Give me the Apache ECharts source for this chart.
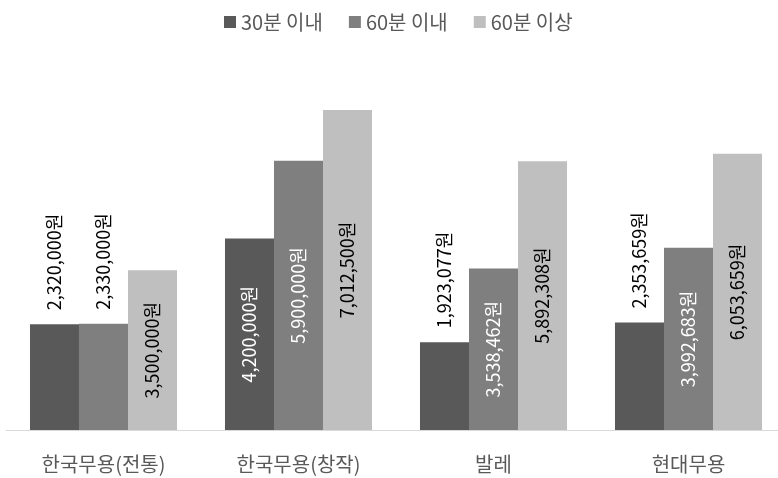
<!DOCTYPE html>
<html><head><meta charset="utf-8">
<script src="https://cdn.jsdelivr.net/npm/echarts@6/dist/echarts.min.js"></script>
<style>html,body{margin:0;padding:0;background:#fff;overflow:hidden}#c{width:786px;height:478px}</style>
</head><body><div id="c"></div>
<script>
const categories = ['한국무용(전통)', '한국무용(창작)', '발레', '현대무용'];
const seriesNames = ['30분 이내', '60분 이내', '60분 이상'];
const within30 = [2320000, 4200000, 1923077, 2353659];
const within60 = [2330000, 5900000, 3538462, 3992683];
const over60 = [3500000, 7012500, 5892308, 6053659];
// label placement: true = above bar
const outside30 = [true, false, true, true];
const outside60 = [true, false, false, false];
const outsideOver = [false, false, false, false];

const colors = ['#595959', '#7f7f7f', '#bfbfbf'];
const insideText = ['#ffffff', '#ffffff', '#000000'];
const FONT = '"Noto Sans CJK KR", "Noto Sans", sans-serif';
const fmt = v => v.toLocaleString('en-US') + '원';

function build(values, outside, idx) {
  return values.map((v, i) => ({
    value: v,
    label: outside[i]
      ? { position: 'top', rotate: 90, align: 'left', verticalAlign: 'middle', distance: 14, color: '#000000' }
      : { position: 'inside', rotate: 90, align: 'center', verticalAlign: 'middle', color: insideText[idx] }
  }));
}

const chart = echarts.init(document.getElementById('c'));
chart.setOption({
  animation: false,
  textStyle: { fontFamily: FONT },
  legend: {
    top: 7, left: 219,
    itemWidth: 12, itemHeight: 12, itemGap: 26,
    icon: 'rect',
    textStyle: { fontSize: 20, color: '#595959', fontFamily: FONT }
  },
  grid: { left: 6, right: 0, top: 65, bottom: 48 },
  xAxis: {
    type: 'category', data: categories,
    axisTick: { show: false },
    axisLine: { lineStyle: { color: '#d9d9d9', width: 1 } },
    axisLabel: { fontSize: 20, color: '#595959', margin: 24, fontFamily: FONT }
  },
  yAxis: { type: 'value', min: 0, max: 8000000, show: false, splitLine: { show: false } },
  series: [within30, within60, over60].map((vals, k) => ({
    name: seriesNames[k], type: 'bar',
    barGap: '0%', barCategoryGap: '24.6%',
    itemStyle: { color: colors[k] },
    label: { show: true, fontSize: 18, fontFamily: FONT, formatter: p => fmt(p.value) },
    data: build(vals, [outside30, outside60, outsideOver][k], k)
  }))
});
</script></body></html>
